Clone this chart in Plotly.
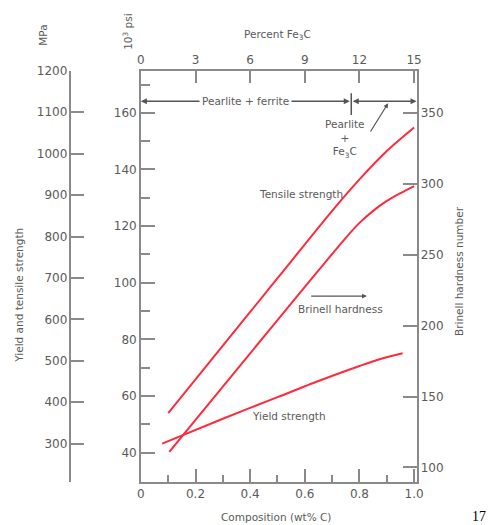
import plotly.graph_objects as go

# ---- data -------------------------------------------------------------
# Tensile strength (10^3 psi) vs carbon content (wt% C)
carbon_ts = [0.10, 0.30, 0.50, 0.70, 0.80, 0.90, 1.00]
tensile_ksi = [54.0, 77.8, 101.6, 125.4, 136.5, 146.5, 154.8]

# Brinell hardness number vs carbon content
carbon_hb = [0.104, 0.30, 0.50, 0.65, 0.75, 0.80, 0.85, 0.90, 0.95, 1.00]
brinell_hb = [111.0, 157.0, 204.0, 239.0, 262.0, 272.5, 281.0, 288.0, 293.5, 298.5]

# Yield strength (10^3 psi) vs carbon content
carbon_ys = [0.078, 0.30, 0.50, 0.65, 0.80, 0.88, 0.958]
yield_ksi = [43.2, 52.0, 59.6, 65.3, 70.6, 73.2, 75.1]

# Axis ticks
x_major = [0, 0.2, 0.4, 0.6, 0.8, 1.0]
x_major_text = ["0", "0.2", "0.4", "0.6", "0.8", "1.0"]
x_minor = [0.1, 0.3, 0.5, 0.7, 0.9]
fe3c_ticks = [0, 3, 6, 9, 12, 15]
ksi_major = [40, 60, 80, 100, 120, 140, 160]
ksi_minor = [50, 70, 90, 110, 130, 150, 170]
mpa_ticks = [300, 400, 500, 600, 700, 800, 900, 1000, 1100, 1200]
hb_ticks = [100, 150, 200, 250, 300, 350]

# eutectoid composition (phase boundary marker)
eutectoid_c = 0.77

# ---- layout geometry --------------------------------------------------
W, H = 492, 525
L, R, T, B = 140, 422, 64.5, 481


def px(x):
    return x / W


def py(y):
    return 1 - y / H


RED = "#ff2a3c"
AX = "#8a8a8a"
TXT = "#5a5a5a"
FONT = "DejaVu Sans"

fig = go.Figure()

curve = dict(color=RED, width=2, shape="spline", smoothing=0.8)
fig.add_trace(go.Scatter(x=carbon_ts, y=tensile_ksi, mode="lines", line=curve,
                         xaxis="x", yaxis="y", showlegend=False))
fig.add_trace(go.Scatter(x=carbon_ys, y=yield_ksi, mode="lines", line=curve,
                         xaxis="x", yaxis="y", showlegend=False))
fig.add_trace(go.Scatter(x=carbon_hb, y=brinell_hb, mode="lines", line=curve,
                         xaxis="x", yaxis="y3", showlegend=False))
# invisible helpers so the top Fe3C axis and the MPa axis are drawn
fig.add_trace(go.Scatter(x=[0, 15], y=[100, 100], mode="lines",
                         line=dict(width=0), opacity=0, hoverinfo="skip",
                         xaxis="x2", yaxis="y", showlegend=False))
fig.add_trace(go.Scatter(x=[0], y=[300], mode="markers", opacity=0,
                         hoverinfo="skip", xaxis="x", yaxis="y2",
                         showlegend=False))

tickfont = dict(family=FONT, size=12, color=TXT)
x_hi = 1.0 * (R - L) / 279.5

fig.update_layout(
    width=W, height=H,
    margin=dict(l=0, r=0, t=0, b=0),
    paper_bgcolor="white", plot_bgcolor="white",
    xaxis=dict(domain=[px(L), px(R)], range=[0, x_hi], anchor="y",
               showgrid=False, zeroline=False, showline=True,
               linecolor=AX, linewidth=1.5,
               tickvals=x_major, ticktext=x_major_text,
               ticks="inside", ticklen=13, tickwidth=1.5, tickcolor=AX,
               minor=dict(tickvals=x_minor, ticks="inside", ticklen=7,
                          tickwidth=1.5, tickcolor=AX),
               tickfont=tickfont),
    xaxis2=dict(domain=[px(L), px(R)], range=[0, 15 * x_hi], anchor="y",
                overlaying="x", side="top",
                showgrid=False, zeroline=False, showline=True,
                linecolor=AX, linewidth=1.5,
                tickvals=fe3c_ticks, ticks="inside", ticklen=13,
                tickwidth=1.5, tickcolor=AX, tickfont=tickfont),
    yaxis=dict(domain=[py(B), py(T)], range=[29.8, 174.9], anchor="x",
               showgrid=False, zeroline=False, showline=True,
               linecolor=AX, linewidth=1.5,
               tickvals=ksi_major, ticks="inside", ticklen=14,
               tickwidth=1.5, tickcolor=AX,
               minor=dict(tickvals=ksi_minor, ticks="inside", ticklen=9,
                          tickwidth=1.5, tickcolor=AX),
               tickfont=tickfont),
    yaxis2=dict(domain=[py(B), py(T)], range=[208.3, 1200.5],
                overlaying="y", anchor="free", position=px(68), side="left",
                showgrid=False, zeroline=False, showline=True,
                linecolor=AX, linewidth=1.5,
                tickvals=mpa_ticks, ticks="inside", ticklen=13,
                tickwidth=1.5, tickcolor=AX, tickfont=tickfont),
    yaxis3=dict(domain=[py(B), py(T)], range=[90.05, 379.9],
                overlaying="y", anchor="x", side="right",
                showgrid=False, zeroline=False, showline=True,
                linecolor=AX, linewidth=1.5,
                tickvals=hb_ticks, ticks="inside", ticklen=14,
                tickwidth=1.5, tickcolor=AX, tickfont=tickfont),
)

lab = dict(family=FONT, size=10.5, color=TXT)
ann = []


def title(text, x, y, angle=0, font=lab):
    return dict(text=text, x=px(x), y=py(y), xref="paper", yref="paper",
                xanchor="center", yanchor="middle", showarrow=False,
                textangle=angle, font=font)


# axis titles
ann.append(title("Composition (wt% C)", 278, 517))
ann.append(title("Percent Fe<sub>3</sub>C", 280, 28))
ann.append(title("Yield and tensile strength", 15, 292, -90))
ann.append(title("MPa", 40, 29, -90))
ann.append(title("10<sup>3</sup> psi", 126, 25, -90))
ann.append(title("Brinell hardness number", 466, 268, -90))
ann.append(title("17", 486, 516, 0,
                 dict(family="Liberation Serif", size=14, color="black")))

# phase region arrows along the top
y_phase = 164.1
arrow = dict(xref="x", yref="y", axref="x", ayref="y", text="",
             showarrow=True, arrowhead=2, arrowsize=0.8, arrowwidth=1.5,
             arrowcolor="#555")
ann.append(dict(arrow, x=0, y=y_phase, ax=eutectoid_c, ay=y_phase,
                arrowside="end+start"))
ann.append(dict(arrow, x=x_hi, y=y_phase, ax=eutectoid_c, ay=y_phase,
                arrowside="end+start"))
ann.append(dict(text="Pearlite + ferrite", x=0.383, y=y_phase, xref="x",
                yref="y", showarrow=False, bgcolor="white", borderpad=2,
                font=lab))
ann.append(dict(text="Pearlite<br>+<br>Fe<sub>3</sub>C", x=0.748, y=150.6,
                xref="x", yref="y", showarrow=False, font=lab))
ann.append(dict(arrow, x=0.905, y=163.4, ax=0.837, ay=152.9, arrowwidth=1.2))

# curve labels
ann.append(dict(text="Tensile strength", x=0.587, y=131.3, xref="x",
                yref="y", showarrow=False, font=lab))
ann.append(dict(text="Yield strength", x=0.542, y=52.8, xref="x", yref="y",
                showarrow=False, font=lab))
ann.append(dict(text="Brinell hardness", x=0.731, y=90.8, xref="x",
                yref="y", showarrow=False, font=lab))
ann.append(dict(arrow, x=0.827, y=95.3, ax=0.618, ay=95.3, arrowwidth=1.2))

fig.update_layout(annotations=ann)

# boundary tick at the eutectoid composition
fig.add_shape(type="line", x0=eutectoid_c, x1=eutectoid_c, y0=159.2,
              y1=166.9, xref="x", yref="y",
              line=dict(color="#555", width=1.5))

fig.write_html("out.html")
